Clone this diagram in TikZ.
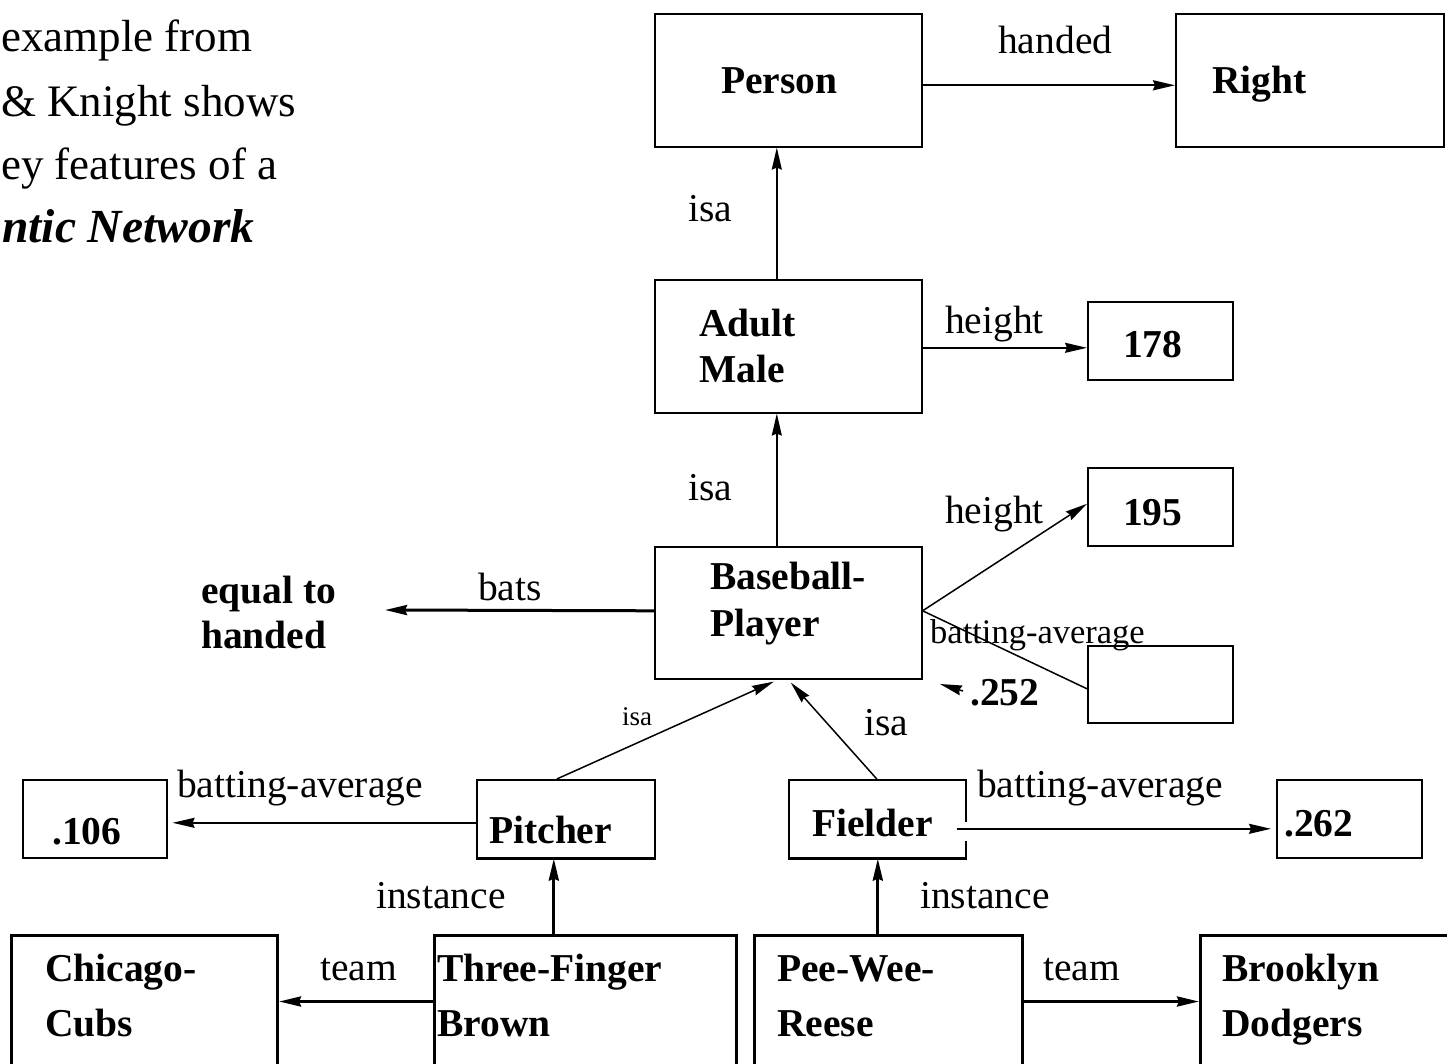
\documentclass[tikz,border=0pt]{standalone}
\usepackage{fontspec}
\setmainfont{Liberation Serif}
\usetikzlibrary{arrows.meta}
\begin{document}
\begin{tikzpicture}[x=1pt,y=-1pt,
  box/.style={draw, line width=1.6pt, inner sep=0pt, anchor=north west},
  bigbox/.style={box, minimum width=267pt, minimum height=133pt},
  valbox/.style={box, minimum width=145pt, minimum height=78pt},
  heavybox/.style={draw, line width=3pt, inner sep=0pt, anchor=north west, minimum height=132pt},
  arr/.style={-{Stealth[length=22pt,width=10pt,inset=2pt]}, line width=1.5pt},
  medarr/.style={arr, line width=2.2pt},
  heavyarr/.style={arr, line width=3pt},
  link/.style={line width=1.5pt},
  lbl/.style={anchor=base west, inner sep=0pt, font=\fontsize{39.5}{47}\selectfont},
  smalllbl/.style={lbl, font=\fontsize{34.5}{40}\selectfont},
  tinylbl/.style={lbl, font=\fontsize{27}{32}\selectfont},
  nm/.style={lbl, font=\fontsize{39.5}{47}\selectfont\bfseries},
  slide/.style={anchor=base west, inner sep=0pt, font=\fontsize{45}{63}\selectfont}
]
\useasboundingbox (0,0) rectangle (1447,1064);
\clip (0,0) rectangle (1447,1064);

% running text at the left
\node[slide] (s1) at (1,52) {example from};
\node[slide] (s2) at (1,117) {\& Knight shows};
\node[slide] (s3) at (1,180) {ey features of a};
\node[slide, font=\fontsize{47.5}{63}\selectfont\bfseries\itshape] (s4) at (2,243) {ntic Network};

% class and value boxes
\node[bigbox] (person) at (654,13) {};
\node[bigbox, minimum width=268pt] (right) at (1175,13) {};
\node[bigbox] (adult) at (654,279) {};
\node[valbox] (v178) at (1087,301) {};
\node[valbox] (v195) at (1087,467) {};
\node[bigbox, minimum height=132pt] (bp) at (654,546) {};
\node[valbox, minimum height=77pt] (v252) at (1087,645) {};
\node[valbox, minimum width=178pt] (pitcher) at (476,779) {};
\node[valbox, minimum width=177pt] (fielder) at (788,779) {};
\node[valbox, minimum width=144pt] (v106) at (22,779) {};
\node[valbox] (v262) at (1276,779) {};
\node[heavybox, minimum width=266pt] (cubs) at (10,934) {};
\node[heavybox, minimum width=302pt] (tfb) at (433,934) {};
\node[heavybox, minimum width=268pt] (pwr) at (753,934) {};
\node[heavybox, minimum width=270pt] (dodgers) at (1199,934) {};

% heavier bottom edges of Pitcher and Fielder
\draw[line width=3pt] (pitcher.south west) -- (pitcher.south east);
\draw[line width=3pt] (fielder.south west) -- (fielder.south east);

% box texts
\node[nm] (tperson) at (721,94) {Person};
\node[nm] (tright) at (1212,94) {Right};
\node[nm] (tadult) at (699,336) {Adult};
\node[nm] (tmale) at (699,382) {Male};
\node[nm] (t178) at (1123,357) {178};
\node[nm] (t195) at (1123,525) {195};
\node[nm] (tbp1) at (710,589) {Baseball-};
\node[nm] (tbp2) at (710,636) {Player};
\node[nm] (teq1) at (201,603) {equal to};
\node[nm] (teq2) at (201,648) {handed};
\node[nm] (t252) at (970,705) {.252};
\node[nm] (tpitcher) at (489,843) {Pitcher};
\node[nm] (tfielder) at (812,836) {Fielder};
\node[nm] (t106) at (52,844) {.106};
\node[nm] (t262) at (1284,836) {.262};
\node[nm] (tcubs1) at (45,981) {Chicago-};
\node[nm] (tcubs2) at (45,1036) {Cubs};
\node[nm] (ttfb1) at (437,981) {Three-Finger};
\node[nm] (ttfb2) at (437,1036) {Brown};
\node[nm] (tpwr1) at (777,981) {Pee-Wee-};
\node[nm] (tpwr2) at (777,1036) {Reese};
\node[nm] (tbd1) at (1222,981) {Brooklyn};
\node[nm] (tbd2) at (1222,1036) {Dodgers};

% links
\draw[medarr] ([yshift=-5pt]person.east) -- ([yshift=-5pt]right.west);
\node[lbl] (lhanded) at (998,54) {handed};

\draw[arr] ([xshift=-11.5pt]adult.north) -- ([xshift=-11.5pt]person.south);
\node[lbl] (lisa1) at (688,222) {isa};

\draw[arr] ([yshift=-1.5pt]adult.east) -- ([yshift=-1.5pt]adult.east -| v178.west);
\node[lbl] (lh1) at (945,333) {height};

\draw[arr] ([xshift=-11.5pt]bp.north) -- ([xshift=-11.5pt]adult.south);
\node[lbl] (lisa2) at (688,500) {isa};

\draw[arr] ([yshift=2pt]bp.east) -- ([yshift=3pt]v195.west);
\node[lbl] (lh2) at (945,523) {height};

\draw[link] ([yshift=2pt]bp.east) -- ([yshift=-4.5pt]v252.west);
\node[smalllbl] (lba1) at (930,643) {batting-average};
\coordinate (tailA) at (963,691);
\coordinate (headA) at (940,684);
\draw[arr] (tailA) -- (headA);

\coordinate (batsend) at (385,610);
\draw[heavyarr] ([yshift=2pt]bp.west) -- (batsend);
\node[lbl] (lbats) at (478,600) {bats};

\draw[arr] ([xshift=-9pt]pitcher.north) -- ([xshift=-14.5pt,yshift=-2pt]bp.south);
\node[tinylbl] (lisa3) at (622,725) {isa};
\draw[arr] ([xshift=-0.5pt]fielder.north) -- ([xshift=2.5pt,yshift=-3pt]bp.south);
\node[lbl] (lisa4) at (864,735) {isa};

\draw[arr] ([yshift=-4pt]pitcher.west) -- ([yshift=-4pt,xshift=5pt]v106.east);
\node[lbl] (lba2) at (177,797) {batting-average};

\draw[white, line width=4pt] ([yshift=-3pt]fielder.east) -- ([yshift=-22pt]fielder.east);
\coordinate (fa) at ([xshift=-10pt,yshift=-10pt]fielder.east);
\draw[arr] (fa) -- ([xshift=-5pt]fa -| v262.west);
\node[lbl] (lba3) at (977,797) {batting-average};

\coordinate (pin) at ([xshift=-12pt]pitcher.south);
\draw[heavyarr] (tfb.north -| pin) -- (pin);
\node[lbl] (linst1) at (376,908) {instance};
\coordinate (fin) at ([xshift=0.5pt]fielder.south);
\draw[heavyarr] (pwr.north -| fin) -- (fin);
\node[lbl] (linst2) at (920,908) {instance};

\draw[heavyarr] (tfb.west) -- (cubs.east);
\node[lbl] (lteam1) at (320,980) {team};
\draw[heavyarr] (pwr.east) -- (dodgers.west);
\node[lbl] (lteam2) at (1043,980) {team};
\end{tikzpicture}
\end{document}
